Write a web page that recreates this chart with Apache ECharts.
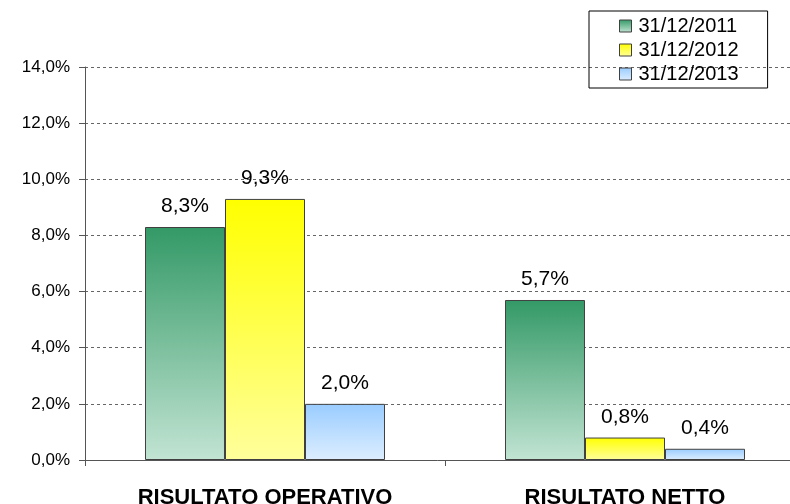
<!DOCTYPE html>
<html>
<head>
<meta charset="utf-8">
<script src="https://cdn.jsdelivr.net/npm/echarts@6/dist/echarts.min.js"></script>
<style>
html,body{margin:0;padding:0;background:#fff;overflow:hidden;}
#chart{width:790px;height:504px;}
</style>
</head>
<body>
<div id="chart"></div>
<script>
const categories = ['RISULTATO OPERATIVO', 'RISULTATO NETTO'];
const seriesNames = ['31/12/2011', '31/12/2012', '31/12/2013'];
const values2011 = [8.3, 5.7];
const values2012 = [9.3, 0.8];
const values2013 = [2.0, 0.4];
const yTicks = [0, 2, 4, 6, 8, 10, 12, 14];

function grad(top, bottom) {
  return new echarts.graphic.LinearGradient(0, 0, 0, 1, [
    { offset: 0, color: top },
    { offset: 1, color: bottom }
  ]);
}
const fills = [
  grad('#339966', '#c2e4d3'),
  grad('#ffff00', '#ffff9c'),
  grad('#99ccff', '#ddeeff')
];
const dataSets = [values2011, values2012, values2013];

const chart = echarts.init(document.getElementById('chart'), null, { renderer: 'canvas' });
const fmt = v => v.toFixed(1).replace('.', ',') + '%';
const FONT = 'Liberation Sans, Arial, sans-serif';

chart.setOption({
  animation: false,
  backgroundColor: '#ffffff',
  textStyle: { fontFamily: FONT },
  grid: { left: 85, right: -15, top: 67, bottom: 44, containLabel: false, outerBoundsMode: 'none' },
  legend: {
    orient: 'vertical',
    left: 589,
    top: 11,
    padding: [5, 29, 4, 30],
    borderColor: '#000000',
    borderWidth: 1,
    itemWidth: 12,
    itemHeight: 12,
    itemGap: 4,
    icon: 'rect',
    itemStyle: { borderColor: '#404040', borderWidth: 1 },
    textStyle: { fontSize: 20, lineHeight: 20, color: '#000', fontFamily: FONT, padding: [0, 0, 0, 2] },
    data: seriesNames
  },
  xAxis: {
    type: 'category',
    data: categories,
    boundaryGap: true,
    axisLine: { show: true, lineStyle: { color: '#555555', width: 1 } },
    axisTick: { show: true, length: 6, inside: false, lineStyle: { color: '#555555' } },
    axisLabel: { fontSize: 22, fontWeight: 'bold', color: '#000', margin: 27, fontFamily: FONT },
    splitLine: { show: false }
  },
  yAxis: {
    type: 'value',
    min: yTicks[0],
    max: yTicks[yTicks.length - 1],
    interval: 2,
    axisLine: { show: true, lineStyle: { color: '#555555', width: 1 } },
    axisTick: { show: true, length: 6, inside: false, lineStyle: { color: '#555555' } },
    axisLabel: { fontSize: 17, color: '#000', margin: 15, formatter: v => fmt(v), fontFamily: FONT },
    splitLine: { show: true, lineStyle: { color: '#666666', type: [3, 3], width: 1 } }
  },
  series: seriesNames.map((name, i) => ({
    name: name,
    type: 'bar',
    data: dataSets[i],
    barGap: '0%',
    barCategoryGap: '33.33%',
    itemStyle: { color: fills[i], borderColor: '#404040', borderWidth: 1 },
    label: {
      show: true,
      position: 'top',
      distance: 10,
      fontSize: 21,
      color: '#000',
      fontFamily: FONT,
      formatter: p => fmt(p.value)
    }
  }))
});
</script>
</body>
</html>
